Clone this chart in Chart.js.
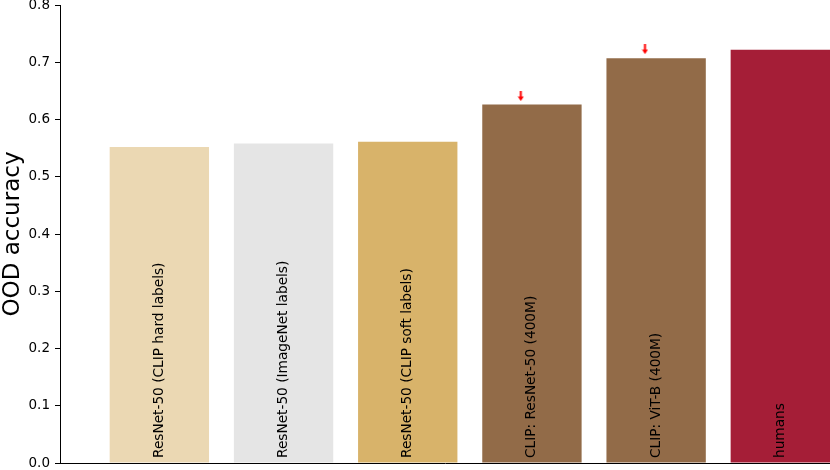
<!DOCTYPE html>
<html lang="en">
<head>
    <meta charset="UTF-8">
    <title>OOD accuracy</title>
    <script src="https://cdn.jsdelivr.net/npm/chart.js"></script>
    <style>
        body {
            margin: 0;
            background: #fff;
        }
        #wrap {
            width: 830px;
            height: 470px;
        }
    </style>
</head>
<body>
    <div id="wrap"><canvas id="myChart" width="830" height="470"></canvas></div>

    <script>
        // data
        const models = [
            'ResNet-50 (CLIP hard labels)',
            'ResNet-50 (ImageNet labels)',
            'ResNet-50 (CLIP soft labels)',
            'CLIP: ResNet-50 (400M)',
            'CLIP: ViT-B (400M)',
            'humans'
        ];
        const positions = [0, 1, 2, 3, 4, 5];
        const oodAccuracy = [0.552, 0.558, 0.561, 0.626, 0.707, 0.722];
        const barColors = ['#ebd8b3', '#e5e5e5', '#d8b36a', '#926b48', '#926b48', '#a51e37'];
        // little red arrows above the two CLIP bars
        const arrowX = [2.91, 3.91];
        const arrowY = [0.641, 0.723];
        const yTicks = [0, 0.1, 0.2, 0.3, 0.4, 0.5, 0.6, 0.7, 0.8];

        const FONT = "'DejaVu Sans', sans-serif";

        // down arrow used as point style
        function makeArrow() {
            const c = document.createElement('canvas');
            c.width = 7;
            c.height = 10;
            const g = c.getContext('2d');
            g.fillStyle = '#ff0000';
            g.fillRect(2.5, 0, 2, 6);
            g.beginPath();
            g.moveTo(0.5, 5.5);
            g.lineTo(6.5, 5.5);
            g.lineTo(3.5, 10);
            g.closePath();
            g.fill();
            return c;
        }

        // model names written upright inside the bars
        const barLabels = {
            id: 'barLabels',
            afterDatasetsDraw(chart) {
                const ctx = chart.ctx;
                const meta = chart.getDatasetMeta(0);
                const bottom = chart.scales.y.getPixelForValue(0);
                ctx.save();
                ctx.fillStyle = '#000';
                ctx.font = '13.7px ' + FONT;
                ctx.textAlign = 'left';
                ctx.textBaseline = 'middle';
                meta.data.forEach((bar, i) => {
                    ctx.save();
                    ctx.translate(bar.x, bottom - 5);
                    ctx.rotate(-Math.PI / 2);
                    ctx.fillText(models[i], 0, 0);
                    ctx.restore();
                });
                ctx.restore();
            }
        };

        let ctx = document.getElementById('myChart').getContext('2d');
        let chart = new Chart(ctx, {
            type: 'bar',
            data: {
                datasets: [{
                    label: 'OOD accuracy',
                    data: positions.map((p, i) => ({x: p, y: oodAccuracy[i]})),
                    backgroundColor: barColors,
                    borderWidth: 0,
                    barPercentage: 0.8,
                    categoryPercentage: 1.0,
                    order: 2
                },
                {
                    type: 'scatter',
                    label: 'arrows',
                    data: arrowX.map((x, i) => ({x: x, y: arrowY[i]})),
                    pointStyle: makeArrow(),
                    order: 1
                }]
            },
            options: {
                responsive: false,
                animation: false,
                layout: {
                    autoPadding: false,
                    padding: {top: 5, left: 0, right: 0, bottom: 0}
                },
                plugins: {
                    legend: {display: false},
                    tooltip: {enabled: false}
                },
                scales: {
                    x: {
                        type: 'linear',
                        offset: false,
                        min: -0.8,
                        max: 5.4,
                        afterBuildTicks: function(scale) {
                            scale.ticks = positions.map(v => ({value: v}));
                        },
                        grid: {display: false},
                        ticks: {display: false},
                        border: {display: true, color: '#000', width: 1},
                        afterFit: function(scale) {
                            scale.height = 7;
                            scale.paddingLeft = 0;
                            scale.paddingRight = 0;
                        }
                    },
                    y: {
                        min: 0,
                        max: 0.8,
                        afterBuildTicks: function(scale) {
                            scale.ticks = yTicks.map(v => ({value: v}));
                        },
                        ticks: {
                            color: '#000',
                            padding: 5,
                            font: {family: FONT, size: 13.5},
                            callback: function(value) {
                                return value.toFixed(1);
                            }
                        },
                        grid: {
                            drawOnChartArea: false,
                            drawTicks: true,
                            tickLength: 5,
                            color: '#000'
                        },
                        border: {display: true, color: '#000', width: 1},
                        title: {
                            display: true,
                            text: 'OOD accuracy',
                            color: '#000',
                            font: {family: FONT, size: 23, lineHeight: 1.1},
                            padding: {top: 0, bottom: 0}
                        },
                        afterFit: function(scale) {
                            scale.width = 60;
                            scale.paddingTop = 0;
                            scale.paddingBottom = 0;
                        }
                    }
                }
            },
            plugins: [barLabels]
        });
    </script>
</body>
</html>
